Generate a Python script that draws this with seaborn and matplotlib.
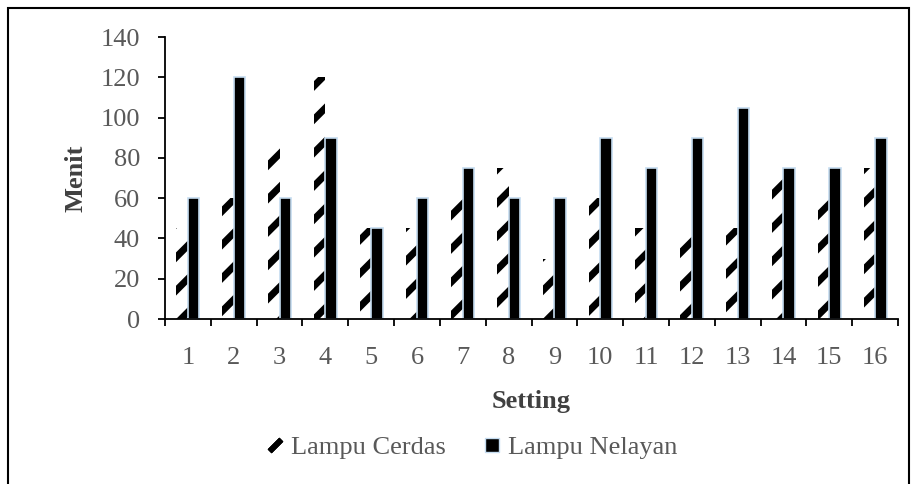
import matplotlib
matplotlib.use("Agg")
import matplotlib.pyplot as plt
import matplotlib.patches as mpatches
from matplotlib.lines import Line2D
import seaborn as sns
import pandas as pd

settings = [str(i) for i in range(1, 17)]
lampu_cerdas = [45, 60, 90, 120, 45, 45, 60, 75, 30, 60, 45, 45, 45, 75, 60, 75]
lampu_nelayan = [60, 120, 60, 90, 45, 60, 75, 60, 60, 90, 75, 90, 105, 75, 75, 90]
series_names = ["Lampu Cerdas", "Lampu Nelayan"]
y_ticks = [0, 20, 40, 60, 80, 100, 120, 140]

df = pd.DataFrame({
    "Setting": settings * 2,
    "Menit": lampu_cerdas + lampu_nelayan,
    "Seri": [series_names[0]] * 16 + [series_names[1]] * 16,
})

sns.set_theme(style="white")
plt.rcParams["font.family"] = ["Liberation Serif", "DejaVu Serif"]
plt.rcParams["hatch.linewidth"] = 5.0

FS = 19

fig = plt.figure(figsize=(9.17, 4.84), dpi=100)
ax = fig.add_axes([165 / 917, 1 - 319 / 484, (898 - 165) / 917, (319 - 37) / 484])

sns.barplot(data=df, x="Setting", y="Menit", hue="Seri", order=settings,
            hue_order=series_names, width=0.5, ax=ax, legend=False,
            palette=["white", "black"], saturation=1)

for p in ax.containers[0]:
    p.set_facecolor("white")
    p.set_edgecolor("black")
    p.set_hatch("/")
    p.set_linewidth(0)
for p in ax.containers[1]:
    p.set_facecolor("black")
    p.set_edgecolor("#c5dcf0")
    p.set_linewidth(1.2)

ax.set_ylim(0, 140)
ax.set_xlim(-0.5, 15.5)
ax.set_yticks(y_ticks)
ax.set_yticklabels([str(v) for v in y_ticks])
ax.set_xticks(range(16))
ax.set_xticklabels(settings)
ax.set_xticks([i - 0.5 for i in range(17)], minor=True)

for s in ["top", "right"]:
    ax.spines[s].set_visible(False)
for s in ["left", "bottom"]:
    ax.spines[s].set_color("black")
    ax.spines[s].set_linewidth(1.3)

ax.tick_params(axis="y", which="major", direction="out", length=5, width=1.3,
               color="black", left=True, labelsize=FS, labelcolor="#595959", pad=13)
ax.tick_params(axis="x", which="major", length=0, labelsize=FS,
               labelcolor="#595959", pad=20, bottom=True)
ax.tick_params(axis="x", which="minor", direction="out", length=5, width=1.3,
               color="black", bottom=True)

ax.set_ylabel("Menit", fontsize=FS, fontweight="bold", color="#404040", labelpad=9)
ax.set_xlabel("Setting", fontsize=FS, fontweight="bold", color="#404040", labelpad=15)

h1 = Line2D([], [], linestyle="None", marker=(2, 2, -45), markersize=12,
            markeredgewidth=4, color="black", label=series_names[0])
h2 = Line2D([], [], linestyle="None", marker="s", markersize=10,
            markerfacecolor="black", markeredgecolor="#c5dcf0",
            markeredgewidth=1.0, label=series_names[1])
leg = fig.legend(handles=[h1, h2], loc="center",
                 bbox_to_anchor=(0.5 + 14 / 917, 1 - 447 / 484),
                 ncol=2, frameon=False, fontsize=FS, handlelength=0.6,
                 handletextpad=0.3, columnspacing=1.45)
for t in leg.get_texts():
    t.set_color("#595959")

frame = mpatches.Rectangle((8 / 917, -0.05), (909 - 8) / 917, (1 - 8 / 484) + 0.05,
                           transform=fig.transFigure, fill=False,
                           edgecolor="black", linewidth=1.5)
fig.add_artist(frame)

fig.savefig("out.png", dpi=100)
